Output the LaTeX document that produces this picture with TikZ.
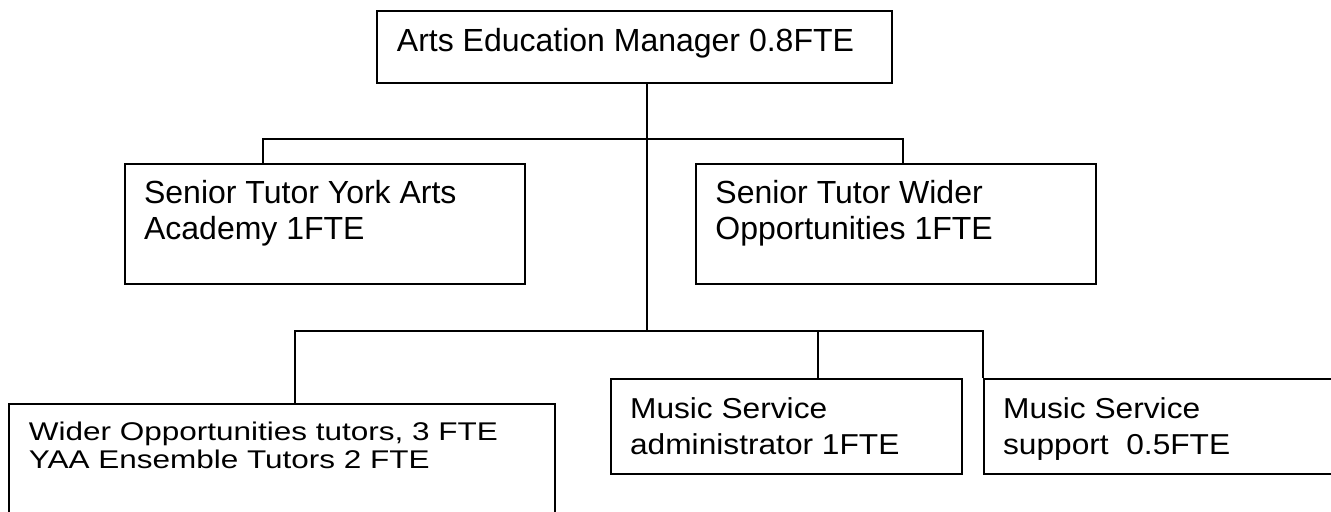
\documentclass[tikz,border=0pt]{standalone}
\usepackage{fontspec}
\setmainfont{Liberation Sans}
\newfontfamily\wideA[FakeStretch=1.23]{Liberation Sans}
\newfontfamily\wideB[FakeStretch=1.10]{Liberation Sans}
\newcommand\twoln[3]{\vtop{\baselineskip=#3\lineskiplimit=-20pt\hbox{#1}\hbox{#2}}}
\tikzset{
  box/.style={draw=black, line width=1pt, rectangle, inner sep=0pt, anchor=north west},
  txt/.style={inner sep=0pt, anchor=base west, text=black},
  conn/.style={draw=black, line width=1pt},
  big/.style={font=\fontsize{16}{18}\selectfont},
  smallA/.style={font=\wideA\fontsize{12.8}{14}\selectfont},
  smallB/.style={font=\wideB\fontsize{14.4}{16}\selectfont},
}
\begin{document}
\begin{tikzpicture}[x=0.5pt,y=-0.5pt]
\clip (0,0) rectangle (1331,512);
\fill[white] (0,0) rectangle (1331,512);
% boxes
\node[box, minimum width=514.5*0.5pt, minimum height=71.5*0.5pt] (top) at (376,10.5) {};
\node[box, minimum width=400*0.5pt, minimum height=120*0.5pt] (sl) at (124,162.7) {};
\node[box, minimum width=400*0.5pt, minimum height=120*0.5pt] (sr) at (695,162.7) {};
\node[box, minimum width=546*0.5pt, minimum height=140*0.5pt] (bl) at (8,403) {};
\node[box, minimum width=351*0.5pt, minimum height=94.4*0.5pt] (ma) at (610,378.3) {};
\node[box, minimum width=400*0.5pt, minimum height=94.4*0.5pt] (ms) at (983,378.3) {};
% texts
\node[txt, big] (ttop) at (396.5,51.7) {Arts Education Manager 0.8FTE};
\node[txt, big] (tsl) at (143.7,203.3) {\twoln{Senior Tutor York Arts}{Academy 1FTE}{18.35pt}};
\node[txt, big] (tsr) at (715,203.3) {\twoln{Senior Tutor Wider}{Opportunities 1FTE}{18.35pt}};
\node[txt, smallA] (tbl) at (28.5,440.3) {\twoln{Wider Opportunities tutors, 3 FTE}{YAA Ensemble Tutors 2 FTE}{14pt}};
\node[txt, smallB] (tma) at (629.7,418.3) {\twoln{Music Service}{administrator 1FTE}{18.35pt}};
\node[txt, smallB] (tms) at (1002.7,418.3) {\twoln{Music Service}{support\ \ 0.5FTE}{18.35pt}};
% connectors
\coordinate (j1) at (647,138.7);
\coordinate (j2) at (647,331);
\draw[conn] (top.south -| j1) -- (j2);
\draw[conn] (sl.north -| 263,0) |- (j1) -| (sr.north -| 903,0);
\draw[conn] (bl.north -| 295,0) |- (j2) -| (ms.north west);
\draw[conn] (ma.north -| 818,0) -- (818,331);
\end{tikzpicture}
\end{document}
